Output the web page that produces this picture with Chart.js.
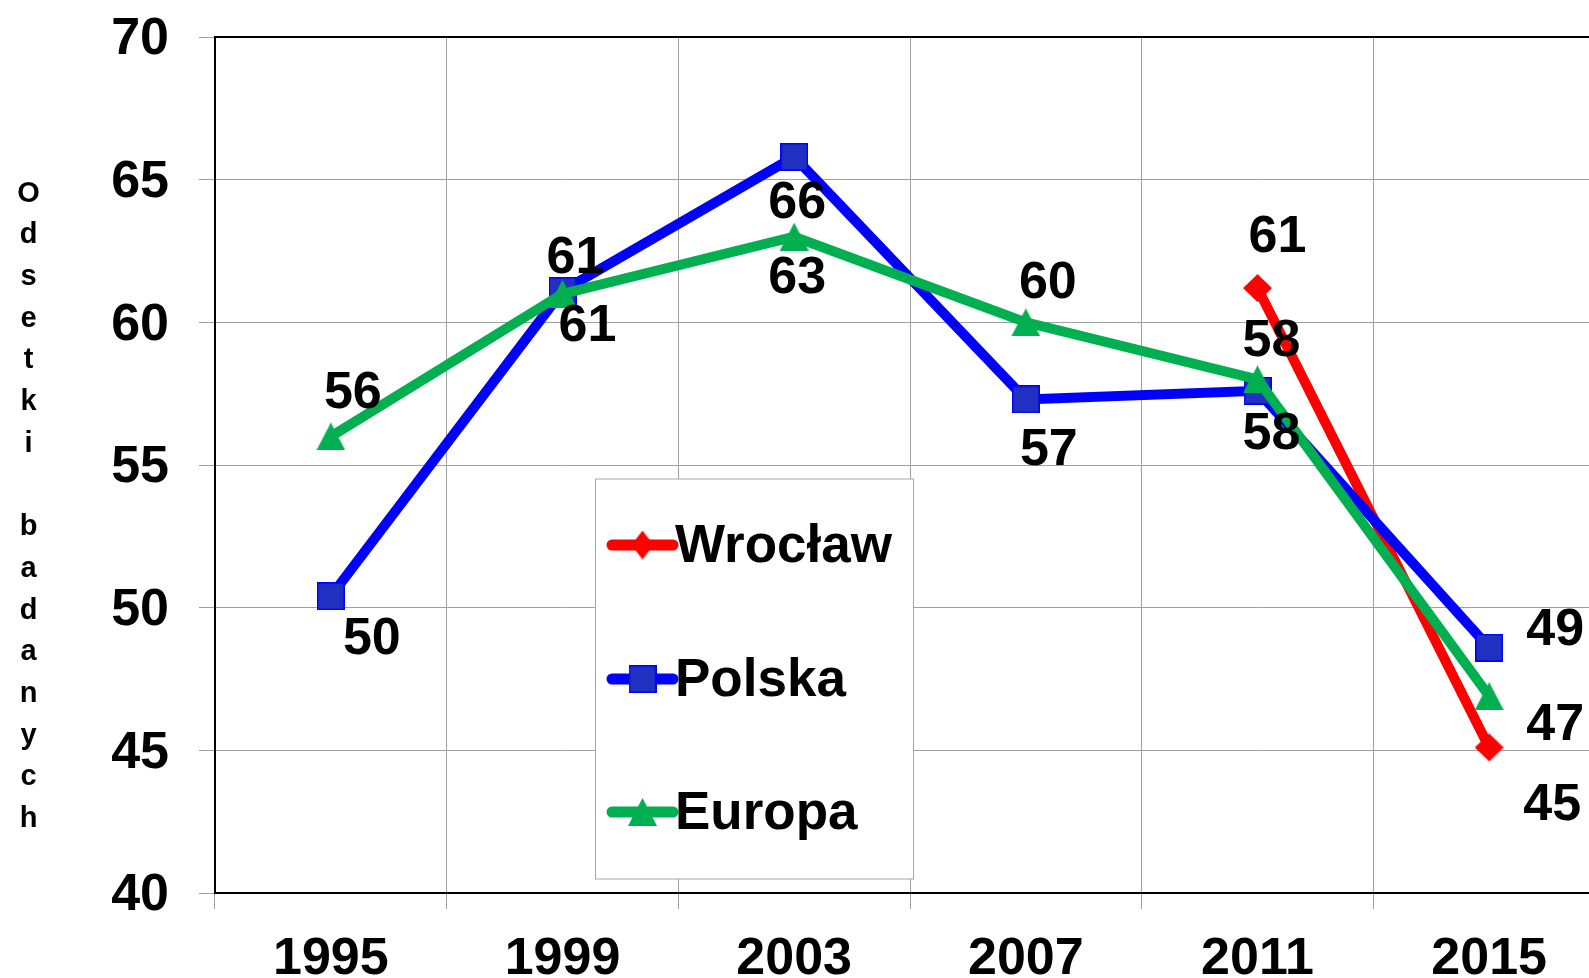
<!DOCTYPE html>
<html>
<head>
<meta charset="utf-8">
<script src="https://cdn.jsdelivr.net/npm/chart.js@4/dist/chart.umd.min.js"></script>
<style>
  html, body { margin: 0; padding: 0; background: #fff; overflow: hidden; }
</style>
</head>
<body>
<canvas id="chart" width="1610" height="978"></canvas>
<script>
// survey years
const years = ['1995', '1999', '2003', '2007', '2011', '2015'];

// percent of respondents
const wroclaw = [null, null, null, null, 61.2, 45.1];
const polska = [50.4, 61.1, 65.8, 57.3, 57.6, 48.6];
const europa = [56.0, 61.0, 63.0, 60.0, 58.0, 46.9];

const yMin = 40;
const yMax = 70;
const yStep = 5;
const axisTitle = 'Odsetki badanych';

const FONT = '"Liberation Sans", Arial, sans-serif';

// small canvas images used as point markers
function makeMarker(shape, w, h, fill, stroke) {
  const c = document.createElement('canvas');
  c.width = w;
  c.height = h;
  const g = c.getContext('2d');
  g.fillStyle = fill;
  g.beginPath();
  if (shape === 'square') {
    g.rect(0.75, 0.75, w - 1.5, h - 1.5);
  } else if (shape === 'diamond') {
    g.moveTo(w / 2, 0);
    g.lineTo(w, h / 2);
    g.lineTo(w / 2, h);
    g.lineTo(0, h / 2);
    g.closePath();
  } else {
    g.moveTo(w / 2, 0);
    g.lineTo(w, h);
    g.lineTo(0, h);
    g.closePath();
  }
  g.fill();
  if (stroke) {
    g.strokeStyle = stroke;
    g.lineWidth = 1.5;
    g.stroke();
  }
  return c;
}

const diamond = makeMarker('diamond', 29, 28, '#FF0000');
const square = makeMarker('square', 28, 28, '#2030C0', '#0000FF');
const triangle = makeMarker('triangle', 29, 28, '#00B050');
const legendDiamond = makeMarker('diamond', 22, 29, '#FF0000');

// where each value label sits, relative to its point
const datasets = [
  {
    label: 'Wrocław',
    data: wroclaw,
    borderColor: '#FF0000',
    pointStyle: diamond,
    legendMarker: legendDiamond,
    labelOffsets: [null, null, null, null, [20, -55], [63, 54]],
    order: 3
  },
  {
    label: 'Polska',
    data: polska,
    borderColor: '#0000FF',
    pointStyle: square,
    legendMarker: square,
    labelOffsets: [[41, 39], [13, -36], [3, 43], [23, 47], [14, 40], [66, -21]],
    order: 2
  },
  {
    label: 'Europa',
    data: europa,
    borderColor: '#00B050',
    pointStyle: triangle,
    legendMarker: triangle,
    labelOffsets: [[22, -47], [25, 29], [3, 38], [22, -43], [14, -42], [66, 25]],
    order: 1
  }
];

datasets.forEach(ds => {
  ds.borderWidth = 10;
  ds.tension = 0;
  ds.pointRadius = 14;
  ds.fill = false;
});

// legend box drawn inside the plot
const legendBox = { left: 595.5, top: 479, right: 913.5, bottom: 879, rows: [545, 679, 812] };

const decorPlugin = {
  id: 'decor',
  beforeDatasetsDraw(chart) {
    const { ctx, chartArea: a } = chart;
    ctx.save();
    // top edge of the plot frame
    ctx.strokeStyle = '#000';
    ctx.lineWidth = 2;
    ctx.beginPath();
    ctx.moveTo(a.left, a.top);
    ctx.lineTo(a.right, a.top);
    ctx.stroke();

    // legend
    const b = legendBox;
    ctx.fillStyle = '#fff';
    ctx.fillRect(b.left, b.top, b.right - b.left, b.bottom - b.top);
    ctx.strokeStyle = '#A6A6A6';
    ctx.lineWidth = 1;
    ctx.strokeRect(b.left, b.top, b.right - b.left, b.bottom - b.top);
    chart.data.datasets.forEach((ds, i) => {
      const y = b.rows[i];
      ctx.strokeStyle = ds.borderColor;
      ctx.lineWidth = 11;
      ctx.lineCap = 'round';
      ctx.beginPath();
      ctx.moveTo(612, y);
      ctx.lineTo(673, y);
      ctx.stroke();
      const m = ds.legendMarker;
      ctx.drawImage(m, 642.5 - m.width / 2, y - m.height / 2);
      ctx.fillStyle = '#000';
      ctx.font = 'bold 53px ' + FONT;
      ctx.textAlign = 'left';
      ctx.textBaseline = 'alphabetic';
      ctx.fillText(ds.label, 675, y + 17);
    });
    ctx.restore();
  },
  afterDatasetsDraw(chart) {
    const { ctx } = chart;
    ctx.save();
    ctx.fillStyle = '#000';
    ctx.font = 'bold 52px ' + FONT;
    ctx.textAlign = 'center';
    ctx.textBaseline = 'alphabetic';
    chart.data.datasets.forEach((ds, i) => {
      const meta = chart.getDatasetMeta(i);
      ds.data.forEach((v, j) => {
        if (v === null) return;
        const pt = meta.data[j];
        const off = ds.labelOffsets[j];
        ctx.fillText(String(Math.round(v)), pt.x + off[0], pt.y + off[1] + 18.5);
      });
    });
    ctx.restore();
  },
  afterDraw(chart) {
    // vertical axis title, one letter per line
    const { ctx } = chart;
    ctx.save();
    ctx.fillStyle = '#000';
    ctx.font = 'bold 29px ' + FONT;
    ctx.textAlign = 'center';
    ctx.textBaseline = 'alphabetic';
    axisTitle.split('').forEach((ch, i) => {
      ctx.fillText(ch, 28.5, 201.5 + i * 41.7);
    });
    ctx.restore();
  }
};

const tickFont = { family: FONT, size: 52, weight: 'bold', lineHeight: 1 };

// keep tick labels from pushing the plot area around
function noPadding(s) {
  s.paddingTop = 0;
  s.paddingBottom = 0;
  s.paddingLeft = 0;
  s.paddingRight = 0;
}

new Chart(document.getElementById('chart'), {
  type: 'line',
  data: { labels: years, datasets: datasets },
  options: {
    responsive: false,
    animation: false,
    events: [],
    devicePixelRatio: 1,
    layout: { autoPadding: false, padding: { top: 37, right: 5, left: 0, bottom: 0 } },
    plugins: {
      legend: { display: false },
      tooltip: { enabled: false }
    },
    scales: {
      x: {
        offset: true,
        grid: { offset: true, color: '#A0A0A0', lineWidth: 1, tickLength: 16, tickColor: '#A0A0A0' },
        border: { color: '#000', width: 2 },
        ticks: { font: tickFont, color: '#000', padding: 25, maxRotation: 0, autoSkip: false },
        afterFit: s => { s.height = 85; noPadding(s); }
      },
      y: {
        min: yMin,
        max: yMax,
        grid: { color: '#A0A0A0', lineWidth: 1, tickLength: 16, tickColor: '#A0A0A0' },
        border: { color: '#000', width: 2 },
        ticks: { stepSize: yStep, font: tickFont, color: '#000', padding: 30, labelOffset: 3 },
        afterFit: s => { s.width = 215; noPadding(s); }
      }
    }
  },
  plugins: [decorPlugin]
});
</script>
</body>
</html>
